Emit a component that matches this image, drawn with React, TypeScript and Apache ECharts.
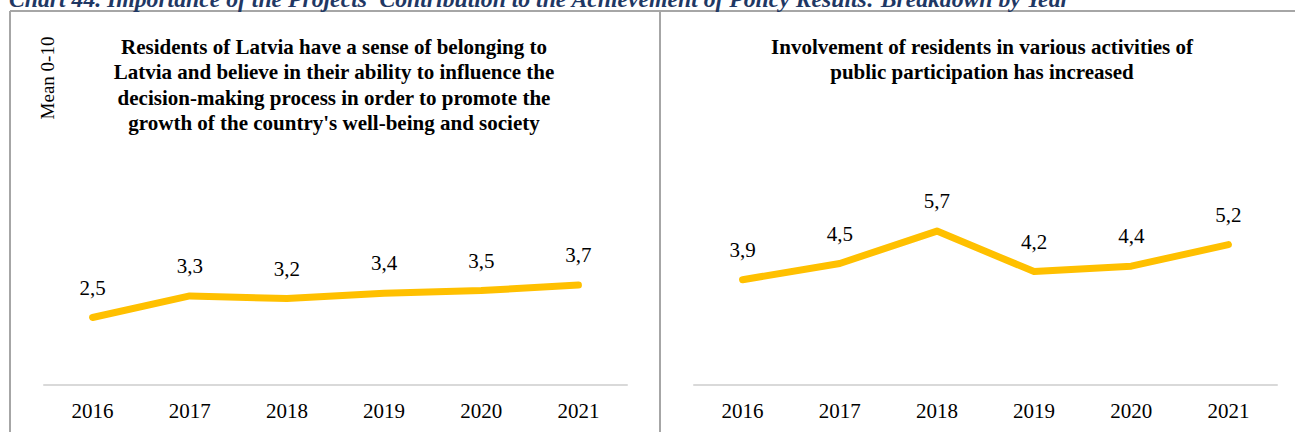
import React, { useEffect, useRef } from "react";
import * as echarts from "echarts";

const years = ["2016", "2017", "2018", "2019", "2020", "2021"];
const belongingValues = [2.5, 3.3, 3.2, 3.4, 3.5, 3.7];
const participationValues = [3.9, 4.5, 5.7, 4.2, 4.4, 5.2];

const mainTitle =
  "Chart 44. Importance of the Projects' Contribution to the Achievement of Policy Results: Breakdown by Year";
const leftTitle =
  "Residents of Latvia have a sense of belonging to\nLatvia and believe in their ability to influence the\ndecision-making process in order to promote the\ngrowth of the country's well-being and society";
const rightTitle =
  "Involvement of residents in various activities of\npublic participation has increased";
const yAxisName = "Mean 0-10";

const SERIF = "Liberation Serif";
const LINE_COLOR = "#FFC000";
const BORDER = "#A6A6A6";

export default function App() {
  const ref = useRef<HTMLDivElement>(null);

  useEffect(() => {
    if (!ref.current) return;
    const chart = echarts.init(ref.current, undefined, { renderer: "svg" });

    const makeX = (gridIndex: number) => ({
      type: "category" as const,
      gridIndex,
      data: years,
      boundaryGap: true,
      axisLine: { show: true, lineStyle: { color: "#D9D9D9", width: 2 } },
      axisTick: { show: false },
      axisLabel: {
        color: "#000",
        fontFamily: SERIF,
        fontSize: 21,
        margin: 15,
      },
    });
    const makeY = (gridIndex: number) => ({
      type: "value" as const,
      gridIndex,
      min: 0,
      max: 10,
      show: false,
      splitLine: { show: false },
    });
    const makeSeries = (idx: number, data: number[]) => ({
      type: "line" as const,
      xAxisIndex: idx,
      yAxisIndex: idx,
      data,
      symbol: "circle",
      symbolSize: 1,
      showSymbol: true,
      itemStyle: { color: LINE_COLOR },
      lineStyle: { color: LINE_COLOR, width: 7, cap: "round", join: "round" },
      label: {
        show: true,
        position: "top",
        distance: 19,
        color: "#000",
        fontFamily: SERIF,
        fontSize: 21,
        formatter: (p: any) => Number(p.value).toFixed(1).replace(".", ","),
      },
      emphasis: { disabled: true },
    });

    chart.setOption({
      animation: false,
      backgroundColor: "#fff",
      grid: [
        { left: 44, top: 115, width: 583, height: 270 },
        { left: 694, top: 115, width: 583, height: 270 },
      ],
      xAxis: [makeX(0), makeX(1)],
      yAxis: [makeY(0), makeY(1)],
      series: [makeSeries(0, belongingValues), makeSeries(1, participationValues)],
      graphic: [
        {
          type: "line",
          shape: { x1: 10, y1: 11, x2: 1295, y2: 11 },
          style: { stroke: BORDER, lineWidth: 2 },
        },
        {
          type: "line",
          shape: { x1: 10, y1: 11, x2: 10, y2: 432 },
          style: { stroke: BORDER, lineWidth: 2 },
        },
        {
          type: "line",
          shape: { x1: 660, y1: 11, x2: 660, y2: 432 },
          style: { stroke: BORDER, lineWidth: 2 },
        },
        {
          type: "text",
          x: 9,
          y: -1,
          style: {
            text: mainTitle,
            fill: "#1F3864",
            fontFamily: SERIF,
            fontSize: 23.7,
            fontWeight: "bold",
            fontStyle: "italic",
            align: "left",
            verticalAlign: "middle",
          },
        },
        {
          type: "text",
          x: 47,
          y: 78,
          rotation: Math.PI / 2,
          style: {
            text: yAxisName,
            fill: "#000",
            fontFamily: SERIF,
            fontSize: 19,
            align: "center",
            verticalAlign: "middle",
          },
        },
        {
          type: "text",
          x: 334,
          y: 34,
          style: {
            text: leftTitle,
            fill: "#000",
            fontFamily: SERIF,
            fontSize: 21,
            fontWeight: "bold",
            lineHeight: 25.5,
            align: "center",
            verticalAlign: "top",
          },
        },
        {
          type: "text",
          x: 982,
          y: 34,
          style: {
            text: rightTitle,
            fill: "#000",
            fontFamily: SERIF,
            fontSize: 21,
            fontWeight: "bold",
            lineHeight: 25.5,
            align: "center",
            verticalAlign: "top",
          },
        },
      ],
    });

    return () => chart.dispose();
  }, []);

  return (
    <div
      ref={ref}
      style={{ position: "fixed", left: 0, top: 0, width: 1295, height: 432 }}
    />
  );
}
